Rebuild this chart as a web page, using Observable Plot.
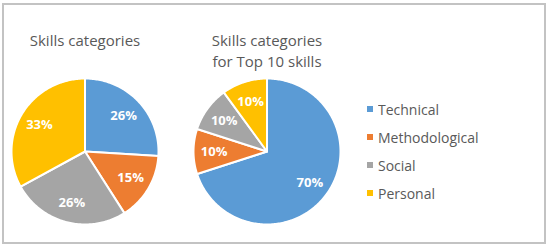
<!DOCTYPE html>
<html><head><meta charset="utf-8">
<script src="https://cdn.jsdelivr.net/npm/d3@7"></script>
<script src="https://cdn.jsdelivr.net/npm/@observablehq/plot@0.6"></script>
<style>
html,body{margin:0;padding:0;background:#fff;}
#wrap{position:relative;width:550px;height:247px;overflow:hidden;font-family:"Open Sans",sans-serif;}
#frame{position:absolute;left:2px;top:3px;width:544px;height:241px;border:2px solid #c3c3c3;box-sizing:border-box;}
.pie{position:absolute;top:0;}
#legend{position:absolute;left:367px;top:95px;}
.lg-swatches{font-family:"Open Sans",sans-serif;font-size:14px;color:#595959;margin:0;}
.lg-swatch{height:28px;padding-bottom:0;}
.lg-swatch > svg{margin-right:5px;}
</style></head><body><div id="wrap"><div id="frame"></div></div>
<script>
const categories = ["Technical", "Methodological", "Social", "Personal"];
const colors = ["#5B9BD5", "#ED7D31", "#A5A5A5", "#FFC000"];
const titles = ["Skills categories", "Skills categories\nfor Top 10 skills"];
const allSkills = [26, 15, 26, 33];
const top10Skills = [70, 10, 10, 10];
const labelFormat = v => v + "%";

function piePlot(values, title) {
  const table = categories.map((c, i) => ({category: c, value: values[i]}));
  const arcs = d3.pie().sort(null).value(d => d.value)(table);
  const outline = arcs.flatMap(a => {
    const n = Math.max(2, Math.ceil((a.endAngle - a.startAngle) / (Math.PI / 180)));
    const pts = [{category: a.data.category, x: 0, y: 0}];
    for (let k = 0; k <= n; k++) {
      const t = a.startAngle + (a.endAngle - a.startAngle) * k / n;
      pts.push({category: a.data.category, x: Math.sin(t), y: Math.cos(t)});
    }
    return pts;
  });
  const labels = arcs.map(a => {
    const m = (a.startAngle + a.endAngle) / 2;
    return {category: a.data.category, value: a.data.value, x: 0.72 * Math.sin(m), y: 0.72 * Math.cos(m)};
  });
  return Plot.plot({
    width: 170, height: 247, marginLeft: 11, marginRight: 12, marginTop: 78, marginBottom: 23,
    x: {domain: [-1, 1], axis: null},
    y: {domain: [-1, 1], axis: null},
    color: {domain: categories, range: colors},
    style: {background: "transparent", overflow: "visible", fontFamily: "Open Sans"},
    marks: [
      Plot.line(outline, {x: "x", y: "y", z: "category", fill: "category", stroke: "white", strokeWidth: 2, curve: "linear-closed"}),
      Plot.text(labels, {x: "x", y: "y", text: d => labelFormat(d.value), fill: "white", fontWeight: "bold", fontSize: 13}),
      Plot.text([title], {frameAnchor: "top", text: d => d, lineAnchor: "top", dy: -48, fontSize: 15, fill: "#595959", lineHeight: 1.43})
    ]
  });
}

const wrap = document.getElementById("wrap");
[allSkills, top10Skills].forEach((vals, i) => {
  const svg = piePlot(vals, titles[i]);
  svg.classList.add("pie");
  svg.style.position = "absolute";
  svg.style.left = (i * 182) + "px";
  wrap.appendChild(svg);
});
const legend = Plot.legend({
  color: {domain: categories, range: colors},
  legend: "swatches", columns: 1, swatchSize: 6, className: "lg"
});
const lw = document.createElement("div");
lw.id = "legend";
lw.appendChild(legend);
wrap.appendChild(lw);
</script></body></html>
